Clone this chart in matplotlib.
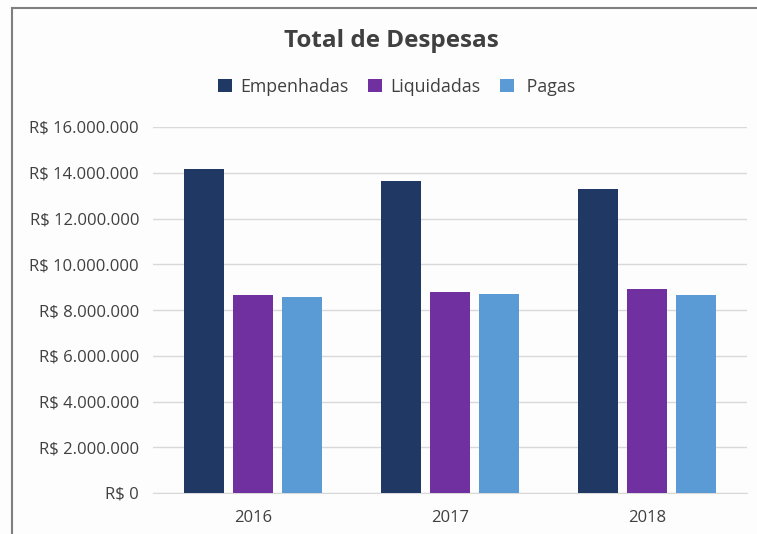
import matplotlib.pyplot as plt
import numpy as np
from matplotlib.patches import Rectangle

plt.rcParams['font.family'] = ['Open Sans', 'DejaVu Sans']

anos = ['2016', '2017', '2018']
empenhadas = [14150000, 13650000, 13280000]
liquidadas = [8640000, 8790000, 8920000]
pagas = [8570000, 8720000, 8640000]

series = ['Empenhadas', 'Liquidadas', ' Pagas']
cores = ['#1F3864', '#7030A0', '#5B9BD5']

fig = plt.figure(figsize=(7.57, 5.34), dpi=100)
fig.patch.set_facecolor('#fdfdfd')
ax = fig.add_axes([153 / 757, 1 - 493 / 534, 594 / 757, 366 / 534])
ax.set_facecolor('#fdfdfd')

# moldura do gráfico
fig.patches.append(Rectangle((12 / 757, -0.01), 1.0, 1 - 8 / 534 + 0.01,
                             transform=fig.transFigure, fill=False,
                             edgecolor='#7f7f7f', linewidth=1.5))

x = np.arange(len(anos))
w = 0.203
passo = 0.251
for i, (nome, vals) in enumerate(zip(series, [empenhadas, liquidadas, pagas])):
    ax.bar(x + (i - 1) * passo, vals, w, color=cores[i], label=nome, zorder=3)

ax.set_xlim(-0.508, 2.508)
ax.set_ylim(0, 16000000)
ax.set_yticks(np.arange(0, 16000001, 2000000))
ax.set_yticklabels(['R$ 0' if v == 0 else 'R$ ' + f'{v:,}'.replace(',', '.')
                    for v in range(0, 16000001, 2000000)])
ax.set_xticks(x)
ax.set_xticklabels(anos)
ax.grid(axis='y', color='#d9d9d9', linewidth=1, zorder=0)
for s in ['top', 'right', 'left']:
    ax.spines[s].set_visible(False)
ax.spines['bottom'].set_color('#d9d9d9')
ax.tick_params(axis='both', length=0, labelsize=12, colors='#404040')
ax.tick_params(axis='y', pad=10)
ax.tick_params(axis='x', pad=12)

fig.text(391 / 757, 1 - 41 / 534, 'Total de Despesas', ha='center', va='center',
         fontsize=17.5, fontweight='bold', color='#404040')
fig.legend(loc='center', bbox_to_anchor=(397 / 757, 1 - 87 / 534), ncol=3,
           frameon=False, fontsize=12.8, handlelength=0.75, handleheight=0.75,
           handletextpad=0.5, columnspacing=1.1, labelcolor='#404040')

plt.savefig('out.png', dpi=100, facecolor=fig.get_facecolor())
